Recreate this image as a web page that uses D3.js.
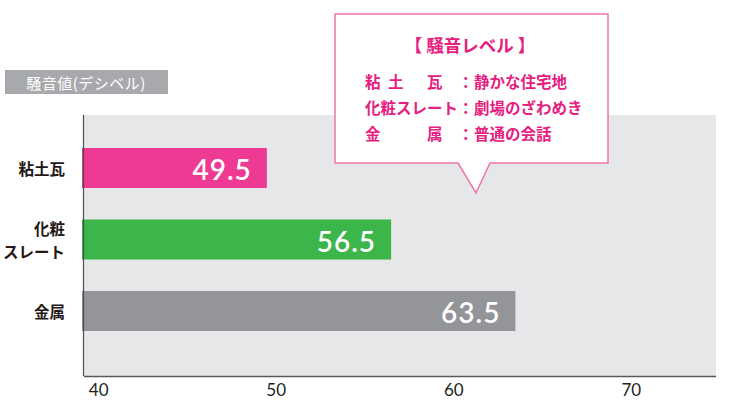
<!DOCTYPE html>
<html><head><meta charset="utf-8">
<script src="https://cdn.jsdelivr.net/npm/d3@7"></script>
<style>
html,body{margin:0;padding:0;background:#fff;}
svg{display:block;}
</style>
</head><body>
<script>
const categories = [["粘土瓦"], ["化粧", "スレート"], ["金属"]];
const values = [49.5, 56.5, 63.5];
const barColors = ["#ee3a93", "#3cb54a", "#939598"];
const tickValues = [40, 50, 60, 70];
const axisTitle = "騒音値(デシベル)";
const legendTitle = "【 騒音レベル 】";
const legendRows = [
  {left: ["粘", "土", "瓦"], right: "静かな住宅地"},
  {left: ["化粧スレート"], right: "劇場のざわめき"},
  {left: ["金", "", "属"], right: "普通の会話"}
];

const W = 729, H = 411;
const jp = "'Noto Sans CJK JP', 'Noto Sans', sans-serif";
const num = "Lato, 'Open Sans', sans-serif";
const pink = "#e6207f";

const svg = d3.select("body").append("svg").attr("width", W).attr("height", H);

const plot = {left: 84, right: 716, top: 115, bottom: 376};
const x = d3.scaleLinear().domain([39.2, 74.8]).range([plot.left, plot.right]);
const y = d3.scaleBand().domain(d3.range(values.length)).range([148, 331]).paddingInner(0.44).paddingOuter(0);

// background
svg.append("rect").attr("x", plot.left).attr("y", plot.top)
  .attr("width", plot.right - plot.left).attr("height", plot.bottom - plot.top)
  .attr("fill", "#e6e7e8");

// axis title box
svg.append("rect").attr("x", 5).attr("y", 70).attr("width", 163).attr("height", 24).attr("fill", "#a7a9ac");
svg.append("text").attr("x", 86).attr("y", 82).attr("text-anchor", "middle").attr("dominant-baseline", "central")
  .attr("fill", "#fff").attr("font-family", jp).attr("font-size", 15).attr("letter-spacing", 0.5).text(axisTitle);

// bars
const bars = svg.append("g");
values.forEach((v, i) => {
  bars.append("rect").attr("x", plot.left - 2).attr("y", y(i))
    .attr("width", x(v) - (plot.left - 2)).attr("height", y.bandwidth())
    .attr("fill", barColors[i]);
  bars.append("text").attr("x", x(v) - 15).attr("y", y(i) + y.bandwidth() / 2 + 1)
    .attr("text-anchor", "end").attr("dominant-baseline", "central")
    .attr("fill", "#fff").attr("font-family", num).attr("font-weight", 600).attr("font-size", 28)
    .attr("letter-spacing", 1).text(v.toFixed(1));
});

// axes lines
svg.append("line").attr("x1", plot.left - 0.5).attr("x2", plot.left - 0.5).attr("y1", plot.top).attr("y2", plot.bottom)
  .attr("stroke", "#4d4d4f").attr("stroke-width", 1.2);
const xAxis = d3.axisBottom(x).tickValues(tickValues).tickSize(0).tickPadding(8).tickFormat(d3.format("d"));
const gx = svg.append("g").attr("transform", `translate(0,${plot.bottom})`).call(xAxis);
gx.select(".domain").attr("stroke", "#58595b").attr("stroke-width", 1.6).attr("d", `M${plot.left},0.5H${plot.right}`);
gx.selectAll("text").attr("font-family", num).attr("font-size", 17).attr("fill", "#231f20");

// y labels
categories.forEach((lines, i) => {
  const cy = y(i) + y.bandwidth() / 2;
  lines.forEach((ln, j) => {
    svg.append("text").attr("text-anchor", "end").attr("font-family", jp)
      .attr("font-weight", "bold").attr("font-size", 15.5).attr("fill", "#231815")
      .attr("x", 65).attr("y", cy + (j - (lines.length - 1) / 2) * 23)
      .attr("dominant-baseline", "central").text(ln);
  });
});

// callout
const cb = {l: 335, r: 608, t: 14, b: 163, px1: 458, px2: 490, tipX: 476, tipY: 193};
svg.append("path")
  .attr("d", `M${cb.l},${cb.t}H${cb.r}V${cb.b}H${cb.px2}L${cb.tipX},${cb.tipY}L${cb.px1},${cb.b}H${cb.l}Z`)
  .attr("fill", "#fff").attr("stroke", "#f173ac").attr("stroke-width", 1.5);
svg.append("text").attr("x", 470).attr("y", 44).attr("text-anchor", "middle").attr("dominant-baseline", "central")
  .attr("font-family", jp).attr("font-weight", "bold").attr("font-size", 17.5).attr("fill", pink)
  .attr("xml:space", "preserve").text(legendTitle);
const leftPos = {1: [365], 3: [365, 388, 427]};
legendRows.forEach((r, i) => {
  const cy = 81 + i * 26;
  const g = svg.append("g").attr("font-family", jp).attr("font-weight", "bold").attr("font-size", 15.5).attr("fill", pink);
  r.left.forEach((s, k) => {
    g.append("text").attr("x", leftPos[r.left.length][k]).attr("y", cy).attr("dominant-baseline", "central").text(s);
  });
  g.append("text").attr("x", 458).attr("y", cy).attr("dominant-baseline", "central").text("：");
  g.append("text").attr("x", 474).attr("y", cy).attr("dominant-baseline", "central").text(r.right);
});
</script>
</body></html>
